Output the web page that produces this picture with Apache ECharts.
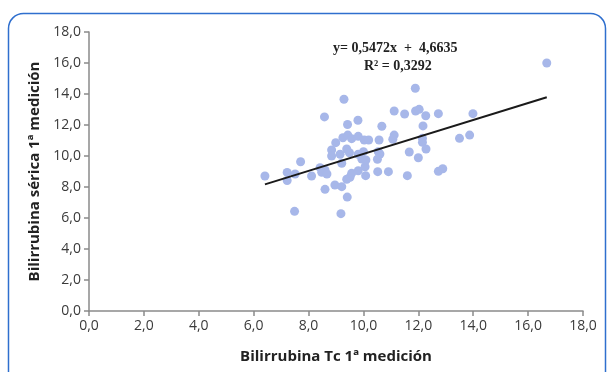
<!DOCTYPE html>
<html><head><meta charset="utf-8">
<script src="https://cdn.jsdelivr.net/npm/echarts@6/dist/echarts.min.js"></script>
<style>html,body{margin:0;padding:0;background:#fff}#c{width:611px;height:372px}</style>
</head><body><div id="c"></div>
<script>
// Bilirrubina Tc 1ª medición (x) vs Bilirrubina sérica 1ª medición (y)
const tcValues = [6.41,7.22,7.22,7.51,7.71,7.49,8.11,8.48,8.60,8.58,8.60,8.96,9.21,9.18,9.29,9.42,9.80,9.41,9.39,9.51,9.57,9.81,10.06,10.08,10.52,10.91,11.60,10.67,11.12,11.50,11.90,11.89,12.03,12.27,12.73,13.99,12.17,11.12,11.07,12.15,12.15,12.28,11.67,12.00,13.50,13.87,12.73,12.89,16.68,8.99,9.25,9.43,9.57,9.81,10.03,10.19,10.57,8.84,8.84,9.15,9.39,9.49,9.81,9.94,10.09,10.00,10.54,10.60,10.51,9.21,8.67,8.42];
const sericaValues = [8.71,8.94,8.42,8.84,9.63,6.43,8.71,8.95,9.10,12.52,7.85,8.13,8.02,6.28,13.66,12.03,12.31,7.35,8.50,8.63,8.88,9.05,9.31,8.73,8.99,8.99,8.73,11.92,12.90,12.71,12.90,14.37,13.01,12.60,12.73,12.73,11.94,11.35,11.08,11.14,10.88,10.45,10.26,9.89,11.14,11.35,9.01,9.18,16.00,10.86,11.18,11.35,11.12,11.27,11.03,11.03,11.03,10.39,10.00,10.11,10.45,10.21,10.11,9.81,9.74,10.28,10.28,10.13,9.79,9.53,8.84,9.25];
const slope = 0.5472;
const intercept = 4.6635;
const rSquared = 0.3292;
const xTicks = [0,2,4,6,8,10,12,14,16,18];
const yTicks = [0,2,4,6,8,10,12,14,16,18];
const xTitle = 'Bilirrubina Tc 1ª medición';
const yTitle = 'Bilirrubina sérica 1ª medición';

const pts = tcValues.map((x,i)=>[x, sericaValues[i]]);
const xMin = Math.min(...tcValues), xMax = Math.max(...tcValues);
const trend = [[xMin, slope*xMin+intercept],[xMax, slope*xMax+intercept]];
const fmt = v => v.toFixed(1).replace('.', ',');
const fmt4 = v => v.toFixed(4).replace('.', ',');

const chart = echarts.init(document.getElementById('c'), null, {renderer:'canvas'});
const axisFont = {fontFamily:'Open Sans', fontSize:14, color:'#3a3a3a'};
const titleFont = {fontFamily:'Open Sans', fontSize:15, fontWeight:'bold', color:'#222'};
chart.setOption({
  animation:false,
  grid:{left:89, right:28, top:32, bottom:61},
  xAxis:{type:'value', min:xTicks[0], max:xTicks[xTicks.length-1], interval:2,
    axisLine:{show:true, lineStyle:{color:'#8a8a8a', width:1.5}},
    axisTick:{show:true, length:5, lineStyle:{color:'#8a8a8a', width:1.5}},
    splitLine:{show:false},
    axisLabel:Object.assign({formatter:fmt, margin:8}, axisFont),
    name:xTitle, nameLocation:'middle', nameGap:38, nameTextStyle:titleFont},
  yAxis:{type:'value', min:yTicks[0], max:yTicks[yTicks.length-1], interval:2,
    axisLine:{show:true, lineStyle:{color:'#8a8a8a', width:1.5}},
    axisTick:{show:true, length:5, lineStyle:{color:'#8a8a8a', width:1.5}},
    splitLine:{show:false},
    axisLabel:Object.assign({formatter:fmt, margin:8}, axisFont),
    name:yTitle, nameLocation:'middle', nameGap:46, nameRotate:90, nameTextStyle:titleFont},
  series:[
    {type:'scatter', data:pts, symbolSize:9, itemStyle:{color:'#a7b7e9', opacity:1}, z:2},
    {type:'line', data:trend, symbol:'none', lineStyle:{color:'#1a1a1a', width:2}, z:3, silent:true}
  ],
  graphic:[
    {type:'rect', shape:{x:8.5, y:13.5, width:597, height:380, r:15}, style:{fill:'none', stroke:'#2f6fce', lineWidth:1.5}, silent:true},
    {type:'text', left:333, top:41, style:{text:'y= '+fmt4(slope)+'x  +  '+fmt4(intercept), font:'bold 14px "Liberation Serif"', fill:'#222'}},
    {type:'text', left:364, top:59, style:{text:'R² = '+fmt4(rSquared), font:'bold 14px "Liberation Serif"', fill:'#222'}}
  ]
});
</script></body></html>
